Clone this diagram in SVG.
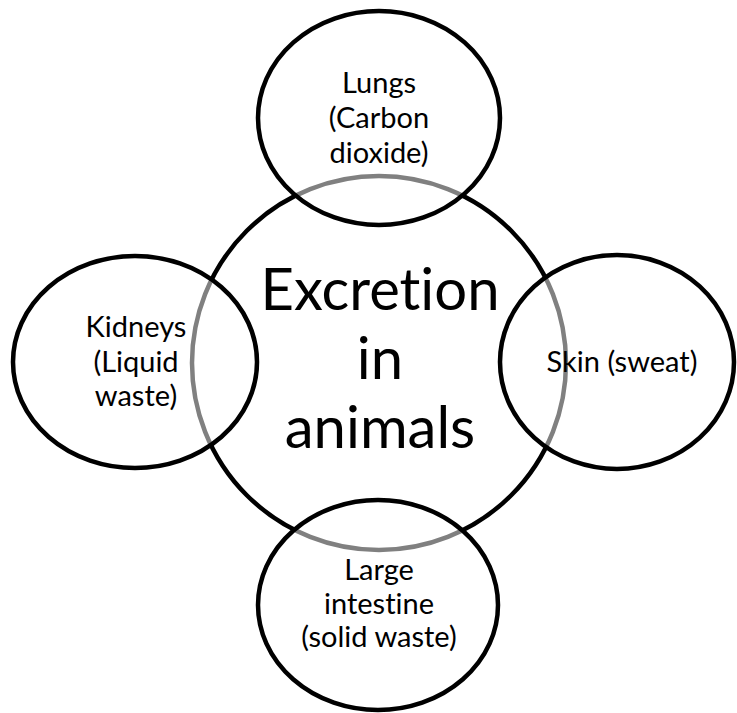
<svg xmlns="http://www.w3.org/2000/svg" width="737" height="713" viewBox="0 0 737 713">
<style>
.bg{fill:#ffffff}
.hub{fill:#ffffff;stroke:#000000;stroke-width:4.5}
.sat{fill:#ffffff;fill-opacity:0.5;stroke:#000000;stroke-width:4.5}
.t{font-family:Lato,"Liberation Sans",sans-serif;fill:#000000;text-anchor:middle;font-variant-ligatures:none;font-feature-settings:"liga" 0}
.big{font-size:58px}
.small{font-size:29px}
</style>
<rect class="bg" x="0" y="0" width="737" height="713"/>
<g id="connectors"></g>
<g id="node-center">
<circle class="hub" cx="379" cy="363" r="187"/>
<text class="t big" x="380" y="310">Excretion</text>
<text class="t big" x="380" y="379">in</text>
<text class="t big" x="380" y="448">animals</text>
</g>
<g id="node-lungs">
<ellipse class="sat" cx="379" cy="118" rx="121" ry="107"/>
<text class="t small" x="379" y="93">Lungs</text>
<text class="t small" x="379" y="128">(Carbon</text>
<text class="t small" x="379" y="163">dioxide)</text>
</g>
<g id="node-kidneys">
<ellipse class="sat" cx="135" cy="362" rx="122" ry="106"/>
<text class="t small" x="136" y="337">Kidneys</text>
<text class="t small" x="136" y="372">(Liquid</text>
<text class="t small" x="136" y="406">waste)</text>
</g>
<g id="node-skin">
<ellipse class="sat" cx="617" cy="362" rx="117" ry="107"/>
<text class="t small" x="622" y="372">Skin (sweat)</text>
</g>
<g id="node-intestine">
<ellipse class="sat" cx="378" cy="605" rx="120" ry="105"/>
<text class="t small" x="379" y="580">Large</text>
<text class="t small" x="379" y="614">intestine</text>
<text class="t small" x="379" y="647">(solid waste)</text>
</g>
</svg>
